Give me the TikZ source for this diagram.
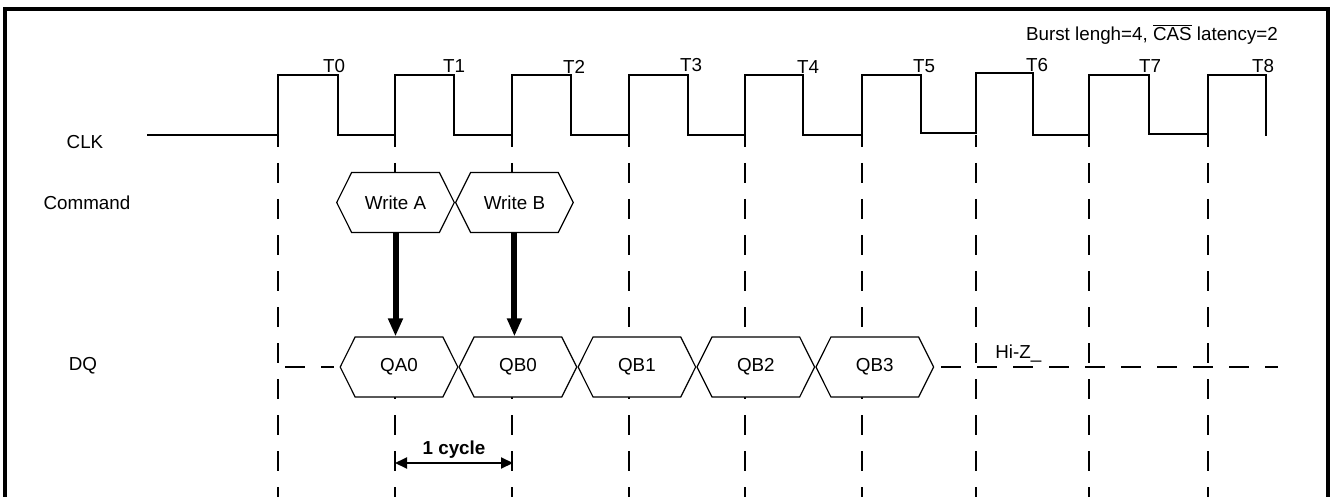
\documentclass[tikz,border=0pt]{standalone}
\usepackage{fontspec}
\setmainfont{Liberation Sans}
\usetikzlibrary{positioning, arrows.meta, shapes.symbols}

\begin{document}
\begin{tikzpicture}[x=0.5pt, y=-0.5pt, font=\fontsize{9.4}{11}\selectfont,
  bus/.style={draw, fill=white, signal, signal to=east and west, signal pointer angle=127,
    minimum width=58.8pt, minimum height=30pt, inner sep=0pt, line width=0.6pt},
  wave/.style={line width=1.3pt},
  grid/.style={line width=1.2pt, dash pattern=on 10pt off 8pt, dash phase=4pt},
  cmd/.style={-{Triangle[length=9pt,width=7pt]}, line width=3pt},
  span/.style={{Triangle[length=6pt,width=5.5pt]}-{Triangle[length=6pt,width=5.5pt]}, line width=1pt}]
\useasboundingbox (0,0) rectangle (1331,497);
% frame
\draw[line width=2pt] (5,497) -- (5,9.5) -- (1328,9.5) -- (1328,497);
\node[anchor=base east] (note) at (1285,41) {Burst lengh=4, $\overline{\mbox{CAS}}$ latency=2};

% signal names
\node (clk) at (85,142) {CLK};
\node (cmd) at (87,203) {Command};
\node (dq) at (83,366) {DQ};

% clock
\draw[wave] (147,135) -- (278,135) -- (278,75) -- (338,75) -- (338,135) -- (395,135) -- (395,75)
  -- (454,75) -- (454,135) -- (512,135) -- (512,75) -- (571,75) -- (571,135) -- (629,135)
  -- (629,75) -- (688,75) -- (688,135) -- (745,135) -- (745,75) -- (803,75) -- (803,135)
  -- (862,135) -- (862,75) -- (921,75) -- (921,133) -- (976,133) -- (976,73) -- (1033,73)
  -- (1033,135) -- (1089,135) -- (1089,75) -- (1149,75) -- (1149,134) -- (1208,134)
  -- (1208,75) -- (1266,75) -- (1266,136);
\node (t0) at (334,66) {T0};
\node (t1) at (454,66) {T1};
\node (t2) at (574,67) {T2};
\node (t3) at (691,65) {T3};
\node (t4) at (808,67) {T4};
\node (t5) at (924,66) {T5};
\node (t6) at (1037,65) {T6};
\node (t7) at (1150,66) {T7};
\node (t8) at (1263,66) {T8};

% rising edges
\draw[grid] (278,135) -- (278,497) (395,135) -- (395,497) (512,135) -- (512,497)
  (629,135) -- (629,497) (745,135) -- (745,497) (862,135) -- (862,497)
  (976,135) -- (976,497) (1089,135) -- (1089,497) (1208,135) -- (1208,497);

% command bus
\node[bus] (wa) at (395.5,202.5) {Write A};
\node[bus, right=0pt of wa] (wb) {Write B};

% data bus
\coordinate (hzL) at (285,367);
\coordinate (hzR) at (1278,367);
\node[bus] (qa0) at (399,367) {QA0};
\node[bus, right=0pt of qa0] (qb0) {QB0};
\node[bus, right=0pt of qb0] (qb1) {QB1};
\node[bus, right=0pt of qb1] (qb2) {QB2};
\node[bus, right=0pt of qb2] (qb3) {QB3};
\draw[grid, dash phase=0pt, shorten >=3pt] (hzL) -- (qa0.west);
\draw[grid, dash phase=0pt, shorten <=3.5pt] (qb3.east) -- (hzR);
\node[anchor=base west, inner sep=0pt] (hiz) at (995,358) {Hi-Z\_};

% latency
\draw[cmd] (wa.south) -- (wa.south |- qa0.north);
\draw[cmd] (wb.south) -- (wb.south |- qb0.north);

\coordinate (cyA) at (395,463);
\coordinate (cyB) at (513,463);
\draw[span] (cyA) -- node[above, inner sep=2pt, font=\fontsize{9.4}{11}\selectfont\bfseries] {1 cycle} (cyB);
\end{tikzpicture}
\end{document}
